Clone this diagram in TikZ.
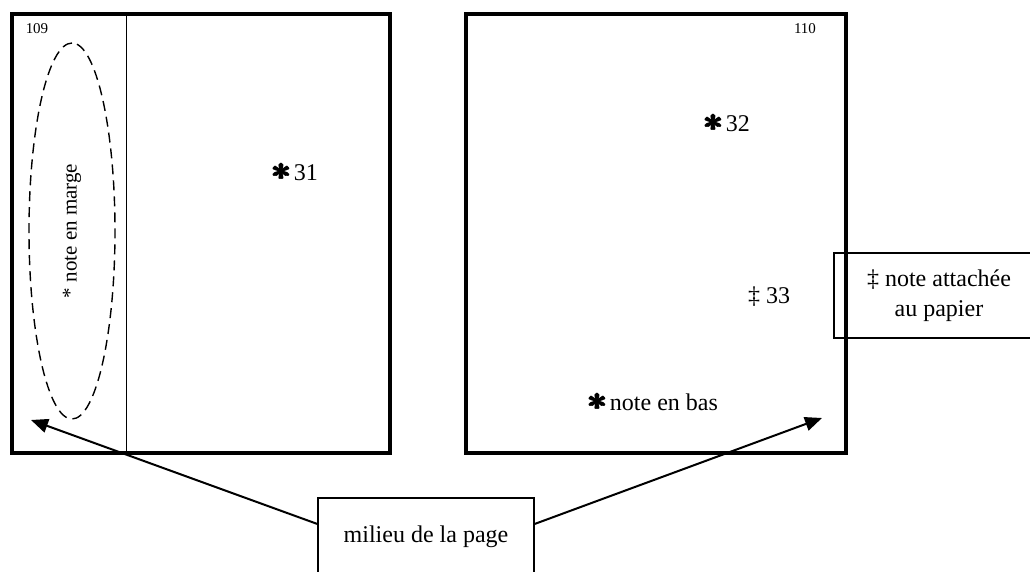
\documentclass[tikz,border=0pt]{standalone}
\usepackage{amsmath}
\usepackage{fontspec}
\setmainfont{Liberation Serif}
\usetikzlibrary{arrows.meta,shapes.geometric}

\newcommand{\bigast}{{\fontsize{16.5}{16}\selectfont\boldmath$\pmb{\ast}$}}

\begin{document}
\begin{tikzpicture}[x=0.5pt, y=-0.5pt, every node/.style={font=\fontsize{12}{15}\selectfont},
    >={Triangle[length=8.5pt, width=7pt]}]
    \useasboundingbox (0,0) rectangle (1030,572);

    % Pages
    \node[draw, line width=2pt, minimum width=189pt, minimum height=219.5pt] (pageL) at (201,233.5) {};
    \node[draw, line width=2pt, minimum width=190pt, minimum height=219.5pt] (pageR) at (656,233.5) {};
    \draw[line width=0.5pt] (126,16) -- (126,455);

    % Page numbers
    \node[font=\fontsize{7.5}{9}\selectfont] (num109) at (37,29) {109};
    \node[font=\fontsize{7.5}{9}\selectfont] (num110) at (805,29) {110};

    % Margin note
    \node[draw, ellipse, rotate=90, line width=0.7pt, dash pattern=on 5pt off 3pt, minimum width=188pt, minimum height=43pt, inner sep=0pt, font=\fontsize{10.5}{12}\selectfont] (marge) at (72,231) {* note en marge};

    % Notes
    \node (n31) at (295,172) {\bigast\kern1pt 31};
    \node (n32) at (727,123) {\bigast\kern1pt 32};
    \node (n33) at (769,297) {\ddag\ 33};
    \node (bas) at (653,402) {\bigast\kern1pt note en bas};

    % Boxes
    \node[draw, line width=1pt, minimum width=105pt, minimum height=42.5pt, align=center] (attache) at (939,295.5) {\ddag\ note attachée\\au papier};
    \node[draw, line width=0.6pt, minimum width=108pt, minimum height=39pt] (milieu) at (426,537) {milieu de la page};

    % Arrows
    \coordinate (tipL) at (31,420);
    \coordinate (tipR) at (822,418);
    \draw[->, line width=1pt] ([yshift=6.5pt]milieu.west) -- (tipL);
    \draw[->, line width=1pt] ([yshift=6.5pt]milieu.east) -- (tipR);
\end{tikzpicture}
\end{document}
